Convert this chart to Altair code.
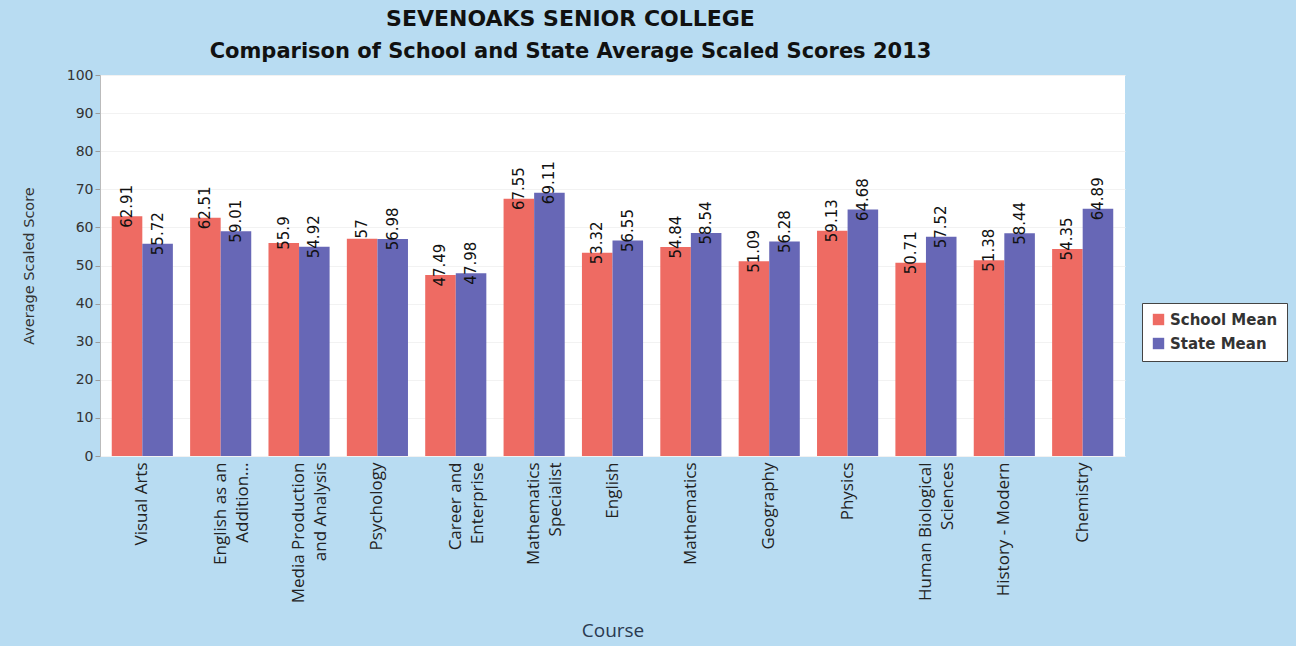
import altair as alt
import pandas as pd

courses = ["Visual Arts", "English as an|Addition...", "Media Production|and Analysis", "Psychology",
           "Career and|Enterprise", "Mathematics|Specialist", "English", "Mathematics", "Geography",
           "Physics", "Human Biological|Sciences", "History - Modern", "Chemistry"]
school_mean = [62.91, 62.51, 55.9, 57, 47.49, 67.55, 53.32, 54.84, 51.09, 59.13, 50.71, 51.38, 54.35]
state_mean = [55.72, 59.01, 54.92, 56.98, 47.98, 69.11, 56.55, 58.54, 56.28, 64.68, 57.52, 58.44, 64.89]
series = ["School Mean", "State Mean"]
y_ticks = list(range(0, 101, 10))

rows = []
for c, a, b in zip(courses, school_mean, state_mean):
    rows.append({"Course": c, "Series": series[0], "Score": a, "Label": f"{a:g}"})
    rows.append({"Course": c, "Series": series[1], "Score": b, "Label": f"{b:g}"})
df = pd.DataFrame(rows)

x_enc = alt.X("Course:N", sort=courses,
              scale=alt.Scale(paddingInner=0.22, paddingOuter=0.15),
              axis=alt.Axis(title="Course", labelAngle=-90, labelExpr="split(datum.label, '|')",
                            labelFont="Open Sans", labelFontSize=17, labelColor="#222",
                            labelPadding=6, labelLineHeight=22,
                            titleFont="Open Sans", titleFontSize=19, titleFontWeight="normal",
                            titleColor="#2a3a50", titleY=184, titleBaseline="bottom",
                            domain=False, ticks=False))
y_enc = alt.Y("Score:Q", scale=alt.Scale(domain=[0, 100], nice=False),
              axis=alt.Axis(title="Average Scaled Score", values=y_ticks, labelOverlap=False,
                            labelFont="DejaVu Sans", labelFontSize=14, labelColor="#333",
                            titleFont="DejaVu Sans", titleFontSize=14.5, titleFontWeight="normal",
                            titleColor="#333", titleX=-64, tickSize=5, tickColor="#999",
                            domainColor="#bbb", gridColor="#f2f2f2"))

color_enc = alt.Color("Series:N", scale=alt.Scale(domain=series, range=["#ee6b63", "#6767b6"]),
                      legend=alt.Legend(title=None, orient="none", legendX=1042, legendY=228,
                                        fillColor="white", strokeColor="#444", padding=9,
                                        symbolType="square", symbolSize=130, symbolStrokeWidth=0,
                                        labelFont="DejaVu Sans", labelFontSize=15,
                                        labelFontWeight="bold", labelColor="#333", rowPadding=8))

bars = alt.Chart(df).mark_bar().encode(
    x=x_enc, xOffset=alt.XOffset("Series:N", sort=series), y=y_enc, color=color_enc)

labels = alt.Chart(df).mark_text(angle=270, align="center", baseline="middle", dx=10,
                                 font="DejaVu Sans", fontSize=15, color="#111").encode(
    x=x_enc, xOffset=alt.XOffset("Series:N", sort=series),
    y=y_enc, text="Label:N")

chart = (bars + labels).properties(
    width=1025, height=381,
    title=alt.TitleParams("SEVENOAKS SENIOR COLLEGE",
                          subtitle="Comparison of School and State Average Scaled Scores 2013",
                          font="DejaVu Sans", fontSize=22, fontWeight="bold", color="#111",
                          subtitleFont="DejaVu Sans", subtitleFontSize=21, subtitleFontWeight="bold",
                          subtitleColor="#111", subtitlePadding=10,
                          anchor="middle", dx=-42, offset=5),
    background="#b8dcf2",
    padding={"left": 100, "top": 75, "right": 171, "bottom": 190},
    autosize=alt.AutoSizeParams(type="none"),
).configure_view(fill="white", stroke=None)

chart.save("out.html", embed_options={"renderer": "svg", "actions": False})
